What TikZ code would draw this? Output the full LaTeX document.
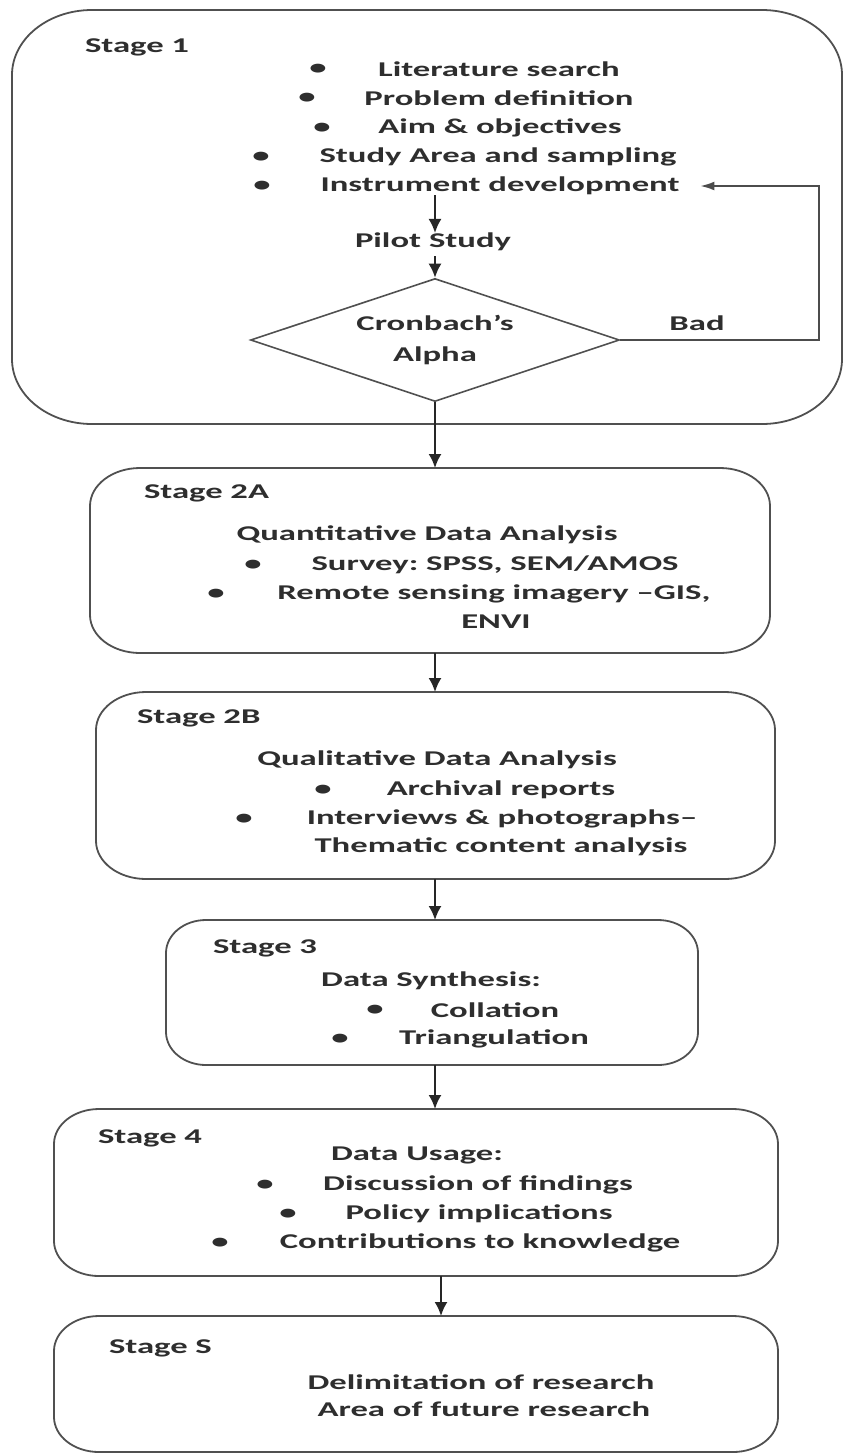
\documentclass[tikz,border=0pt]{standalone}
\usepackage{fontspec}
\setmainfont{Carlito}[FakeStretch=1.65]
\frenchspacing
\usetikzlibrary{shapes.geometric,arrows.meta,calc}
\definecolor{ink}{HTML}{2E2E2E}
\definecolor{framegray}{HTML}{505050}

% rounded frame with elliptical corners around a named area node
\newcommand\stageframe[3]{%
  \draw[framepath] ($(#1.north west)+(#2,0)$) -- ($(#1.north east)+(-#2,0)$)
    arc[start angle=90,end angle=0,x radius=#2,y radius=#3]
    -- ($(#1.south east)+(0,#3)$)
    arc[start angle=0,end angle=-90,x radius=#2,y radius=#3]
    -- ($(#1.south west)+(#2,0)$)
    arc[start angle=-90,end angle=-180,x radius=#2,y radius=#3]
    -- ($(#1.north west)+(0,-#3)$)
    arc[start angle=180,end angle=90,x radius=#2,y radius=#3]
    -- cycle;}

\tikzset{
  area/.style={draw=none,inner sep=0pt,outer sep=0pt,rectangle},
  framepath/.style={draw=framegray,line width=1.8pt},
  txt/.style={inner sep=0pt,outer sep=0pt,text=ink,font=\bfseries\fontsize{21}{29}\selectfont},
  stagelbl/.style={txt,anchor=west},
  bul/.style={txt},
  conn/.style={draw=black!85,line width=2pt,-{Latex[length=14pt,width=13pt]}},
  loopline/.style={draw=black!70,line width=1.6pt,-{Latex[length=14pt,width=9pt]}},
}

\begin{document}
\begin{tikzpicture}[x=1pt,y=-1pt]
\useasboundingbox (0,0) rectangle (844,1454);

% ---------- stage areas ----------
\node[area,minimum width=830pt,minimum height=414pt] (s1) at (427,217) {};
\node[area,minimum width=680pt,minimum height=185pt] (s2a) at (430,560.5) {};
\node[area,minimum width=679pt,minimum height=187pt] (s2b) at (435.5,785.5) {};
\node[area,minimum width=532pt,minimum height=145pt] (s3) at (432,992.5) {};
\node[area,minimum width=724pt,minimum height=167pt] (s4) at (416,1192.5) {};
\node[area,minimum width=724pt,minimum height=136pt] (s5) at (416,1384) {};

\stageframe{s1}{80pt}{65pt}
\stageframe{s2a}{50pt}{38pt}
\stageframe{s2b}{50pt}{38pt}
\stageframe{s3}{40pt}{33pt}
\stageframe{s4}{45pt}{35pt}
\stageframe{s5}{45pt}{35pt}

% ---------- stage 1 ----------
\node[stagelbl] (t1) at (85,47) {Stage 1};
\node[bul] (b11) at (318,69) {•};
\node[txt] (l11) at (499,69) {Literature search};
\node[bul] (b12) at (307,98) {•};
\node[txt] (l12) at (499,98) {Problem definition};
\node[bul] (b13) at (322,128) {•};
\node[txt] (l13) at (500,128) {Aim \& objectives};
\node[bul] (b14) at (261,157) {•};
\node[txt] (l14) at (498,157) {Study Area and sampling};
\node[bul] (b15) at (262,186) {•};
\node[txt] (instr) at (500,186) {Instrument development};
\node[txt] (pilot) at (433,242) {Pilot Study};
\node[diamond,aspect=3,draw=framegray,line width=1.6pt,minimum width=369pt,minimum height=123pt,
      inner sep=0pt,align=center,text=ink,font=\bfseries\fontsize{21}{31}\selectfont]
      (cron) at (435,340) {Cronbach’s\\Alpha};
\node[txt] (bad) at (697,323) {Bad};

% ---------- stage 2A ----------
\node[stagelbl] (t2a) at (144,493) {Stage 2A};
\node[txt] (q0) at (427,535) {Quantitative Data Analysis};
\node[bul] (qb1) at (253,565) {•};
\node[txt] (q1) at (495,565) {Survey: SPSS, SEM/AMOS};
\node[bul] (qb2) at (216,594) {•};
\node[txt] (q2) at (494,594) {Remote sensing imagery –GIS,};
\node[txt] (q3) at (496,622) {ENVI};

% ---------- stage 2B ----------
\node[stagelbl] (t2b) at (137,718) {Stage 2B};
\node[txt] (p0) at (437,760) {Qualitative Data Analysis};
\node[bul] (pb1) at (323,790) {•};
\node[txt] (p1) at (501,790) {Archival reports};
\node[bul] (pb2) at (244,819) {•};
\node[txt] (p2) at (502,819) {Interviews \& photographs–};
\node[txt] (p3) at (501,847) {Thematic content analysis};

% ---------- stage 3 ----------
\node[stagelbl] (t3) at (213,948) {Stage 3};
\node[txt] (d0) at (431,981) {Data Synthesis:};
\node[bul] (db1) at (375,1010) {•};
\node[txt] (d1) at (495,1010) {Collation};
\node[bul] (db2) at (340,1039) {•};
\node[txt] (d2) at (494,1039) {Triangulation};

% ---------- stage 4 ----------
\node[stagelbl] (t4) at (98,1138) {Stage 4};
\node[txt] (u0) at (417,1155) {Data Usage:};
\node[bul] (ub1) at (265,1185) {•};
\node[txt] (u1) at (478,1185) {Discussion of findings};
\node[bul] (ub2) at (288,1214) {•};
\node[txt] (u2) at (479,1214) {Policy implications};
\node[bul] (ub3) at (220,1243) {•};
\node[txt] (u3) at (480,1243) {Contributions to knowledge};

% ---------- stage 5 ----------
\node[stagelbl] (t5) at (109,1348) {Stage S};
\node[txt] (r1) at (481,1382) {Delimitation of research};
\node[txt] (r2) at (484,1409) {Area of future research};

% ---------- connectors ----------
\coordinate (axis45) at (441,1290);
\coordinate (fb1) at (819,340);
\coordinate (fb2) at (fb1 |- instr.east);

\draw[conn] (instr.south -| cron.north) -- (pilot.north -| cron.north);
\draw[conn,shorten <=5pt] (pilot.south -| cron.north) -- (cron.north);
\draw[conn] (cron.south) -- (s2a.north -| cron.south);
\draw[loopline,shorten >=21pt] (cron.east) -- (fb1) -- (fb2) -- (instr.east);
\draw[conn] (s2a.south -| cron.south) -- (s2b.north -| cron.south);
\draw[conn] (s2b.south -| cron.south) -- (s3.north -| cron.south);
\draw[conn] (s3.south -| cron.south) -- (s4.north -| cron.south);
\draw[conn] (s4.south -| axis45) -- (s5.north -| axis45);
\end{tikzpicture}
\end{document}
